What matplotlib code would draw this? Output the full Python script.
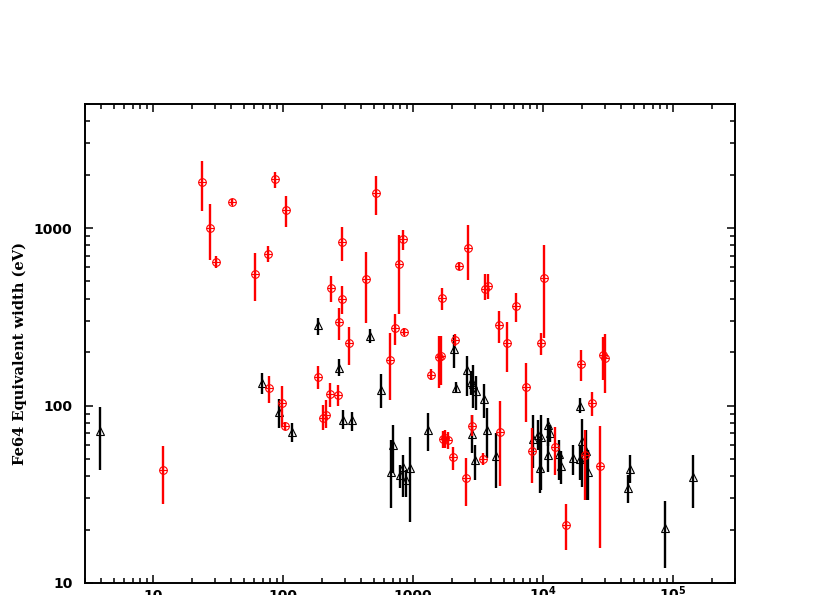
import matplotlib
matplotlib.use('Agg')
import matplotlib.pyplot as plt
from matplotlib.ticker import FixedLocator, LogLocator, NullFormatter
import numpy as np

plt.rcParams['mathtext.fontset'] = 'dejavusans'
plt.rcParams['mathtext.default'] = 'bf'

# red points (circle with cross): x, EW, lower, upper
red_x = [23.7, 27.4, 30.8, 40.5, 61.4, 77.1, 86.3, 105, 283, 235, 287, 272, 322,
         516, 435, 785, 838, 723, 857, 668, 185, 228, 266, 204, 214, 97.7, 78.5,
         103.6, 12.0, 2259, 2664, 1671, 3580, 3776, 6196, 4563, 5257, 10270, 9652,
         7400, 2104, 1594, 1633, 1383, 19440, 28780, 30140, 23940, 4670, 1690,
         1770, 1850, 2042, 2557, 2828, 3474, 8227, 12370, 21040, 27430, 14950]
red_y = [1810, 1000, 645, 1397, 550, 713, 1884, 1269, 830, 458, 399, 295, 224,
         1577, 513, 624, 863, 272, 261, 181, 145, 116, 115, 85, 88, 104, 125,
         77, 43.5, 612, 774, 404, 456, 472, 366, 284, 224, 520, 224,
         127.5, 234, 188, 190, 148, 172, 192, 186, 103.6, 70.7, 65,
         66, 64, 51, 39, 76.4, 50, 55.7, 58.1, 52.7, 45.8, 21.2]
red_lo = [1240, 660, 594, 1343, 387, 640, 1690, 1017, 654, 383, 327, 233, 170,
          1184, 293, 330, 754, 218, 250, 107, 124, 98, 99, 73, 75, 76, 104,
          73, 27.8, 581, 508, 345, 393, 400, 297, 226, 154, 240, 192,
          80.5, 216, 126, 130, 139, 138, 140, 118, 87, 35, 58,
          58, 57, 43.5, 27, 67.1, 46.4, 36.6, 40.7, 29.4, 15.8, 15.4]
red_hi = [2400, 1360, 697, 1453, 719, 788, 2064, 1522, 1009, 535, 472, 356, 278,
          1975, 732, 913, 971, 328, 272, 255, 166, 134, 131, 101, 108, 128, 146,
          81, 58.9, 645, 1040, 462, 550, 550, 433, 341, 295, 802, 257,
          174, 252, 246, 246, 160, 205, 244, 252, 119.5, 106.7, 72,
          73, 71, 58.4, 50.6, 89, 54, 74.8, 75.4, 73.2, 76.4, 27.8]

# black points (triangles)
blk_x = [3.91, 68.6, 93.7, 118.3, 186, 271, 289, 341, 467, 564, 698, 681, 794,
         833, 883, 948, 1312, 2085, 2161, 2603, 2794, 2894, 3052, 3537, 2858,
         2983, 3729, 4348, 8423, 9102, 9600, 9485, 10990, 11320, 10870, 13340,
         13750, 16920, 19150, 19860, 19270, 21420, 22070, 46680, 45290, 86760,
         141800]
blk_y = [71.6, 134, 92.1, 71, 283, 162, 82.8, 82.6, 245, 123, 60.2, 42.1, 40.4,
         45.1, 38.2, 44.5, 73.2, 207, 125.6, 159, 136, 132, 121.5, 109, 69.5,
         49.5, 73.2, 52.2, 64.8, 68.6, 66.5, 44.5, 78.1, 70.1, 52.8, 53.6,
         45.4, 50.4, 99.6, 63.4, 50, 55.2, 42.2, 43.9, 34.3, 20.4,
         39.5]
blk_lo = [43.1, 116, 74.6, 62.6, 250, 146, 73.9, 71.6, 226, 97, 41.7, 26.4, 34.3,
          30.7, 30.7, 22.2, 55.2, 163, 117, 113, 115, 97.4, 94.9, 85.2, 54,
          38.2, 50.6, 34.3, 44.5, 56.4, 33.5, 32.2, 58.9, 62, 42, 38.2,
          36.1, 40.4, 90.2, 34.7, 38, 29.4, 29.2, 36.6, 28.2, 12.1,
          26.4]
blk_hi = [98.3, 153, 109, 79.9, 313, 184, 94.1, 91.7, 269, 150, 78.1, 64.3, 46.4,
          52.8, 43.5, 66.5, 90.9, 249, 135, 190, 156, 170, 146, 132.6, 89,
          60.2, 97, 70.1, 89, 83.3, 89, 64.3, 85.2, 78, 64.3, 63.7,
          55.2, 60.2, 110.5, 84.1, 60, 73.2, 56.4, 52.4, 40.7, 28.8,
          52.4]

xticks = [10, 100, 1000, 1e4, 1e5]
xticklabels = ['10', '100', '1000', r'$10^{4}$', r'$10^{5}$']
yticks = [10, 100, 1000]
yticklabels = ['10', '100', '1000']

fig = plt.figure(figsize=(8.3, 5.95), dpi=100)
ax = fig.add_axes([85/830, 12/595, 650/830, 479/595])

def draw(xs, ys, lo, hi, color, marker):
    xs = np.array(xs); ys = np.array(ys)
    lo = np.array(lo); hi = np.array(hi)
    ax.errorbar(xs, ys, yerr=[ys - lo, hi - ys], fmt='none', ecolor=color,
                elinewidth=1.7, capsize=0)
    ax.plot(xs, ys, linestyle='none', marker=marker, markersize=5.5,
            markerfacecolor='none', markeredgecolor=color, markeredgewidth=0.8)

draw(blk_x, blk_y, blk_lo, blk_hi, 'black', '^')
draw(red_x, red_y, red_lo, red_hi, 'red', 'o')
ax.plot(red_x, red_y, linestyle='none', marker='+', markersize=5.5,
        color='red', markeredgewidth=0.8)

ax.set_xscale('log')
ax.set_yscale('log')
ax.set_xlim(3, 3e5)
ax.set_ylim(10, 5000)

ax.xaxis.set_major_locator(FixedLocator(xticks))
ax.set_xticklabels(xticklabels)
ax.yaxis.set_major_locator(FixedLocator(yticks))
ax.set_yticklabels(yticklabels)
ax.xaxis.set_minor_locator(LogLocator(base=10, subs=np.arange(2, 10)))
ax.yaxis.set_minor_locator(LogLocator(base=10, subs=np.arange(2, 10)))
ax.xaxis.set_minor_formatter(NullFormatter())
ax.yaxis.set_minor_formatter(NullFormatter())

ax.tick_params(which='both', direction='in', top=True, right=True, width=1.1)
ax.tick_params(which='major', length=6)
ax.tick_params(which='minor', length=3.3)
ax.tick_params(axis='y', which='major', pad=9, labelsize=10)
ax.tick_params(axis='x', which='major', pad=12.5, labelsize=10)
for lab in ax.get_xticklabels():
    lab.set_fontweight('bold')
    lab.set_verticalalignment('baseline')
for lab in ax.get_yticklabels():
    lab.set_fontweight('bold')
for sp in ax.spines.values():
    sp.set_linewidth(1.4)

ax.set_ylabel('Fe64 Equivalent width (eV)', fontsize=10.5, fontweight='bold',
              family='DejaVu Serif', va='center')
ax.yaxis.set_label_coords(-0.1, 0.479)

fig.savefig('out.png', dpi=100)
